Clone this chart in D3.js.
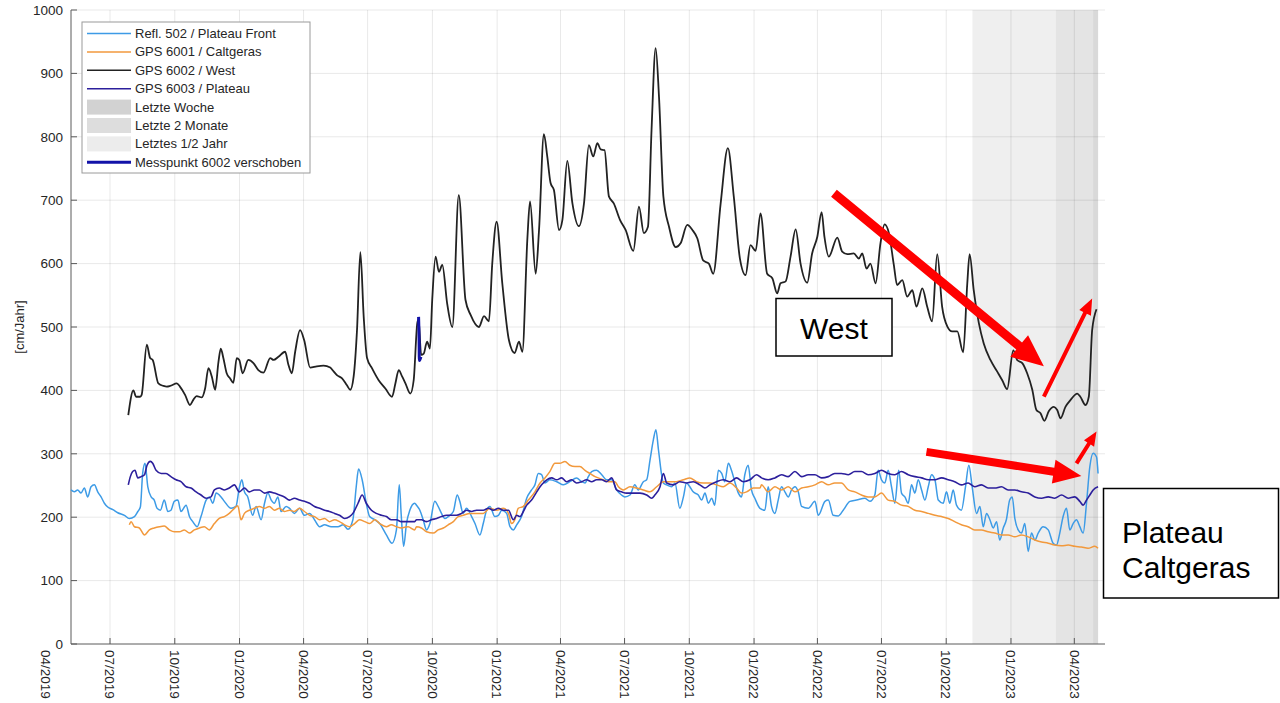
<!DOCTYPE html>
<html>
<head>
<meta charset="utf-8">
<script src="https://cdn.jsdelivr.net/npm/d3@7"></script>
<style>
  body { margin: 0; background: #fff; }
  svg { display: block; font-family: "Liberation Sans", Arial, sans-serif; }
</style>
</head>
<body>
<div id="chart"></div>
<script>
// Data: [decimal year, cm/Jahr]
const westData = [
  [2019.567,361],[2019.587,400],[2019.597,390],[2019.613,390],[2019.619,393],[2019.639,472],[2019.652,451],[2019.662,448],
  [2019.684,411],[2019.704,407],[2019.717,406],[2019.730,407],[2019.756,411],[2019.768,406],[2019.788,393],[2019.807,377],
  [2019.820,385],[2019.833,391],[2019.853,389],[2019.866,403],[2019.879,435],[2019.892,422],[2019.905,401],[2019.918,445],
  [2019.927,466],[2019.937,451],[2019.950,427],[2019.963,419],[2019.976,412],[2019.989,451],[2019.999,448],[2020.012,427],
  [2020.034,448],[2020.054,443],[2020.073,432],[2020.093,428],[2020.119,451],[2020.132,448],[2020.151,453],[2020.177,461],
  [2020.190,440],[2020.203,427],[2020.216,461],[2020.235,495],[2020.251,479],[2020.274,436],[2020.300,438],[2020.326,439],
  [2020.352,436],[2020.365,430],[2020.378,424],[2020.398,419],[2020.417,408],[2020.430,401],[2020.443,422],[2020.456,495],
  [2020.469,618],[2020.482,516],[2020.495,451],[2020.514,435],[2020.540,416],[2020.566,403],[2020.592,390],[2020.605,411],
  [2020.618,432],[2020.631,422],[2020.644,411],[2020.663,395],[2020.676,416],[2020.690,506],[2020.695,512],
  [2020.705,456],[2020.715,458],[2020.728,477],[2020.739,466],[2020.748,543],[2020.761,611],[2020.774,587],[2020.787,598],
  [2020.806,537],[2020.826,500],[2020.851,708],[2020.877,543],[2020.897,519],[2020.929,500],[2020.949,517],[2020.968,509],
  [2020.981,600],[2020.998,666],[2021.020,569],[2021.046,479],[2021.068,459],[2021.085,477],[2021.098,461],[2021.118,642],
  [2021.128,698],[2021.150,584],[2021.163,653],[2021.182,804],[2021.195,769],[2021.208,727],[2021.221,716],[2021.241,653],
  [2021.254,669],[2021.273,762],[2021.293,695],[2021.318,659],[2021.338,695],[2021.357,787],[2021.374,769],[2021.390,790],
  [2021.403,780],[2021.418,779],[2021.435,706],[2021.454,695],[2021.478,669],[2021.500,653],[2021.530,620],[2021.552,690],
  [2021.571,648],[2021.587,658],[2021.601,811],[2021.617,940],[2021.630,863],[2021.647,706],[2021.669,658],[2021.695,626],
  [2021.714,632],[2021.740,661],[2021.760,653],[2021.779,640],[2021.802,605],[2021.824,600],[2021.841,584],[2021.870,695],
  [2021.898,782],[2021.921,706],[2021.945,608],[2021.967,582],[2021.986,629],[2022.006,620],[2022.025,679],[2022.051,584],
  [2022.071,577],[2022.090,553],[2022.103,569],[2022.123,572],[2022.142,611],[2022.162,654],[2022.181,600],[2022.207,570],
  [2022.226,616],[2022.246,642],[2022.263,681],[2022.274,642],[2022.291,611],[2022.324,641],[2022.343,619],[2022.363,615],
  [2022.388,616],[2022.408,608],[2022.421,616],[2022.438,592],[2022.453,600],[2022.473,569],[2022.492,632],[2022.508,662],
  [2022.525,648],[2022.544,598],[2022.557,566],[2022.577,574],[2022.596,548],[2022.616,558],[2022.632,532],[2022.655,561],
  [2022.674,532],[2022.693,509],[2022.713,615],[2022.732,532],[2022.752,501],[2022.771,493],[2022.791,493],[2022.814,460],
  [2022.830,569],[2022.839,615],[2022.855,558],[2022.875,506],[2022.894,474],[2022.920,448],[2022.946,430],[2022.966,416],
  [2022.985,402],[2023.009,463],[2023.024,448],[2023.044,443],[2023.063,427],[2023.083,401],[2023.099,369],[2023.115,364],
  [2023.130,352],[2023.147,367],[2023.167,374],[2023.180,369],[2023.193,356],[2023.212,374],[2023.232,385],[2023.258,395],
  [2023.270,390],[2023.290,377],[2023.303,390],[2023.316,495],[2023.333,528]
];

const messpunktData = [[2020.695,516],[2020.697,480],[2020.698,447],[2020.704,453]];

const reflData = [
  [2019.344,243],[2019.357,240],[2019.370,243],[2019.383,238],[2019.396,246],[2019.409,232],[2019.422,248],[2019.435,251],
  [2019.448,240],[2019.461,232],[2019.474,222],[2019.487,216],[2019.507,212],[2019.526,207],[2019.552,203],[2019.571,198],
  [2019.591,201],[2019.604,209],[2019.614,216],[2019.623,269],[2019.632,285],[2019.643,248],[2019.656,232],[2019.668,227],
  [2019.679,214],[2019.692,211],[2019.707,227],[2019.721,209],[2019.733,211],[2019.746,225],[2019.760,227],[2019.772,209],
  [2019.792,219],[2019.805,201],[2019.818,193],[2019.835,185],[2019.850,201],[2019.870,227],[2019.882,232],[2019.896,222],
  [2019.909,238],[2019.928,232],[2019.941,225],[2019.967,214],[2019.986,217],[2019.999,246],[2020.009,259],[2020.019,240],
  [2020.032,232],[2020.051,203],[2020.064,217],[2020.084,196],[2020.097,222],[2020.110,238],[2020.123,227],[2020.135,222],
  [2020.149,232],[2020.161,209],[2020.181,217],[2020.194,214],[2020.213,206],[2020.233,214],[2020.252,203],[2020.272,206],
  [2020.291,196],[2020.311,185],[2020.330,188],[2020.356,185],[2020.382,185],[2020.402,188],[2020.421,181],[2020.440,196],
  [2020.453,248],[2020.462,276],[2020.476,259],[2020.492,222],[2020.505,201],[2020.525,196],[2020.544,190],[2020.570,172],
  [2020.592,159],[2020.609,180],[2020.620,251],[2020.628,201],[2020.637,154],[2020.648,190],[2020.661,211],[2020.680,222],
  [2020.687,219],[2020.700,211],[2020.713,196],[2020.726,180],[2020.739,190],[2020.758,225],[2020.771,217],[2020.784,206],
  [2020.797,198],[2020.810,201],[2020.830,209],[2020.845,235],[2020.855,225],[2020.868,206],[2020.881,214],[2020.901,201],
  [2020.914,190],[2020.933,172],[2020.946,190],[2020.959,211],[2020.972,217],[2020.991,201],[2021.005,203],[2021.018,211],
  [2021.037,206],[2021.050,185],[2021.063,180],[2021.076,188],[2021.095,201],[2021.115,230],[2021.134,243],[2021.147,251],
  [2021.160,269],[2021.173,267],[2021.186,254],[2021.205,259],[2021.232,256],[2021.258,251],[2021.283,256],[2021.309,262],
  [2021.329,256],[2021.342,254],[2021.355,264],[2021.368,272],[2021.387,274],[2021.407,267],[2021.426,259],[2021.446,259],
  [2021.465,243],[2021.484,235],[2021.497,232],[2021.517,235],[2021.536,251],[2021.549,243],[2021.569,256],[2021.582,259],
  [2021.595,290],[2021.608,322],[2021.618,338],[2021.628,306],[2021.647,254],[2021.660,251],[2021.679,248],[2021.692,254],
  [2021.711,214],[2021.725,232],[2021.737,254],[2021.750,248],[2021.763,240],[2021.783,235],[2021.796,227],[2021.809,238],
  [2021.822,222],[2021.835,230],[2021.847,219],[2021.861,274],[2021.874,269],[2021.886,256],[2021.900,285],[2021.912,274],
  [2021.925,256],[2021.939,238],[2021.951,232],[2021.964,267],[2021.977,282],[2021.990,243],[2022.003,230],[2022.023,214],
  [2022.042,211],[2022.055,248],[2022.068,217],[2022.081,206],[2022.094,227],[2022.107,248],[2022.120,240],[2022.133,232],
  [2022.146,243],[2022.159,248],[2022.172,240],[2022.185,217],[2022.211,214],[2022.237,225],[2022.250,203],[2022.276,225],
  [2022.289,227],[2022.308,203],[2022.328,202],[2022.347,211],[2022.373,225],[2022.399,227],[2022.431,230],[2022.451,225],
  [2022.470,235],[2022.483,274],[2022.496,259],[2022.509,254],[2022.522,274],[2022.535,248],[2022.548,222],[2022.563,274],
  [2022.574,238],[2022.587,232],[2022.600,222],[2022.613,251],[2022.626,238],[2022.639,259],[2022.652,243],[2022.665,227],
  [2022.678,248],[2022.691,267],[2022.704,259],[2022.717,227],[2022.736,222],[2022.749,240],[2022.762,222],[2022.775,243],
  [2022.788,219],[2022.807,211],[2022.823,248],[2022.836,282],[2022.849,248],[2022.866,206],[2022.879,217],[2022.892,185],
  [2022.905,206],[2022.918,196],[2022.931,183],[2022.944,193],[2022.956,164],[2022.970,183],[2022.982,196],[2022.995,227],
  [2023.005,232],[2023.015,198],[2023.028,180],[2023.041,175],[2023.054,190],[2023.067,146],[2023.080,175],[2023.093,164],
  [2023.106,175],[2023.125,185],[2023.145,180],[2023.164,159],[2023.177,156],[2023.190,175],[2023.203,201],[2023.216,214],
  [2023.229,180],[2023.242,190],[2023.255,196],[2023.268,185],[2023.281,175],[2023.294,222],[2023.307,280],[2023.320,301],
  [2023.333,295],[2023.339,269]
];

const caltgerasData = [
  [2019.571,188],[2019.578,193],[2019.591,185],[2019.610,183],[2019.630,172],[2019.649,180],[2019.668,183],[2019.688,185],
  [2019.707,186],[2019.727,180],[2019.746,177],[2019.766,177],[2019.785,180],[2019.805,175],[2019.824,180],[2019.844,183],
  [2019.863,185],[2019.882,180],[2019.902,190],[2019.921,198],[2019.941,201],[2019.960,206],[2019.980,214],[2019.993,218],
  [2020.006,196],[2020.019,206],[2020.038,211],[2020.058,214],[2020.077,217],[2020.097,214],[2020.116,217],[2020.135,211],
  [2020.155,214],[2020.174,209],[2020.194,211],[2020.213,209],[2020.233,214],[2020.252,209],[2020.272,203],[2020.291,201],
  [2020.311,196],[2020.330,198],[2020.349,193],[2020.369,196],[2020.388,193],[2020.408,188],[2020.427,185],[2020.447,190],
  [2020.466,196],[2020.486,193],[2020.505,190],[2020.525,196],[2020.544,190],[2020.570,185],[2020.589,188],[2020.609,185],
  [2020.628,183],[2020.654,185],[2020.680,180],[2020.687,185],[2020.706,183],[2020.726,177],[2020.752,175],[2020.771,180],
  [2020.791,183],[2020.810,188],[2020.830,193],[2020.849,201],[2020.868,203],[2020.894,206],[2020.920,206],[2020.946,206],
  [2020.972,214],[2020.998,211],[2021.024,214],[2021.044,206],[2021.056,190],[2021.069,196],[2021.082,214],[2021.102,217],
  [2021.121,227],[2021.147,240],[2021.167,254],[2021.186,262],[2021.205,272],[2021.225,285],[2021.244,285],[2021.264,288],
  [2021.283,282],[2021.303,280],[2021.322,280],[2021.342,274],[2021.361,269],[2021.381,264],[2021.407,260],[2021.433,256],
  [2021.458,256],[2021.472,248],[2021.491,243],[2021.517,248],[2021.543,246],[2021.569,243],[2021.595,240],[2021.621,248],
  [2021.647,256],[2021.672,256],[2021.698,256],[2021.725,259],[2021.750,262],[2021.776,256],[2021.802,254],[2021.828,254],
  [2021.854,251],[2021.880,248],[2021.906,254],[2021.932,246],[2021.951,238],[2021.971,240],[2021.997,246],[2022.023,246],
  [2022.029,251],[2022.055,240],[2022.081,248],[2022.107,243],[2022.133,248],[2022.159,240],[2022.185,246],[2022.211,248],
  [2022.237,251],[2022.263,256],[2022.289,251],[2022.314,254],[2022.340,254],[2022.367,243],[2022.392,240],[2022.418,235],
  [2022.444,232],[2022.470,232],[2022.496,238],[2022.522,227],[2022.548,225],[2022.574,219],[2022.600,217],[2022.626,211],
  [2022.652,209],[2022.678,206],[2022.704,203],[2022.730,201],[2022.756,198],[2022.781,193],[2022.807,188],[2022.833,185],
  [2022.859,180],[2022.885,180],[2022.911,177],[2022.937,175],[2022.963,172],[2022.989,172],[2023.015,169],[2023.041,172],
  [2023.067,169],[2023.093,164],[2023.119,161],[2023.145,159],[2023.170,156],[2023.197,155],[2023.223,156],[2023.248,154],
  [2023.274,153],[2023.300,151],[2023.326,154],[2023.339,151]
];

const plateauData = [
  [2019.567,251],[2019.575,264],[2019.584,272],[2019.593,274],[2019.604,262],[2019.617,264],[2019.630,267],[2019.640,282],
  [2019.653,288],[2019.662,285],[2019.675,274],[2019.695,269],[2019.714,269],[2019.733,264],[2019.753,259],[2019.772,256],
  [2019.792,248],[2019.811,246],[2019.831,240],[2019.850,235],[2019.870,230],[2019.889,232],[2019.902,243],[2019.921,246],
  [2019.941,243],[2019.960,246],[2019.980,251],[2019.999,240],[2020.019,246],[2020.038,240],[2020.058,243],[2020.077,243],
  [2020.097,238],[2020.116,240],[2020.135,238],[2020.155,235],[2020.174,232],[2020.194,227],[2020.213,230],[2020.233,227],
  [2020.252,225],[2020.272,222],[2020.291,217],[2020.311,214],[2020.330,211],[2020.349,209],[2020.369,206],[2020.388,203],
  [2020.408,198],[2020.427,201],[2020.440,206],[2020.460,222],[2020.476,235],[2020.492,222],[2020.512,211],[2020.531,206],
  [2020.551,203],[2020.570,201],[2020.589,196],[2020.609,196],[2020.628,193],[2020.654,193],[2020.680,193],[2020.687,196],
  [2020.706,196],[2020.726,193],[2020.745,196],[2020.765,198],[2020.784,201],[2020.804,203],[2020.823,203],[2020.842,203],
  [2020.862,206],[2020.881,211],[2020.901,209],[2020.920,211],[2020.946,211],[2020.966,214],[2020.985,211],[2021.005,214],
  [2021.024,211],[2021.044,211],[2021.063,196],[2021.076,203],[2021.089,201],[2021.102,209],[2021.115,219],[2021.134,227],
  [2021.154,240],[2021.173,251],[2021.193,259],[2021.212,262],[2021.232,259],[2021.251,262],[2021.270,256],[2021.290,259],
  [2021.309,254],[2021.329,256],[2021.348,259],[2021.368,256],[2021.387,259],[2021.407,259],[2021.426,256],[2021.446,262],
  [2021.465,243],[2021.484,240],[2021.504,238],[2021.530,238],[2021.556,238],[2021.582,235],[2021.601,230],[2021.614,235],
  [2021.634,248],[2021.647,269],[2021.660,254],[2021.686,251],[2021.711,256],[2021.737,254],[2021.763,256],[2021.789,251],
  [2021.809,246],[2021.828,251],[2021.854,256],[2021.880,259],[2021.906,256],[2021.932,262],[2021.958,256],[2021.984,259],
  [2022.010,267],[2022.029,262],[2022.055,259],[2022.081,262],[2022.107,267],[2022.133,264],[2022.159,272],[2022.185,264],
  [2022.211,267],[2022.237,267],[2022.263,262],[2022.289,264],[2022.314,269],[2022.340,269],[2022.367,267],[2022.392,272],
  [2022.418,272],[2022.444,267],[2022.470,269],[2022.496,274],[2022.522,269],[2022.548,267],[2022.574,272],[2022.600,267],
  [2022.626,264],[2022.652,262],[2022.678,259],[2022.704,259],[2022.730,262],[2022.756,259],[2022.781,256],[2022.807,251],
  [2022.833,254],[2022.859,248],[2022.885,251],[2022.911,246],[2022.937,246],[2022.963,248],[2022.989,243],[2023.015,243],
  [2023.041,240],[2023.067,238],[2023.093,232],[2023.119,230],[2023.145,232],[2023.170,230],[2023.197,235],[2023.223,230],
  [2023.248,232],[2023.268,225],[2023.281,219],[2023.294,227],[2023.307,235],[2023.320,243],[2023.339,248]
];

// shaded periods [start, end] in decimal years
const halfYear = [2022.850, 2023.339];
const twoMonths = [2023.175, 2023.339];
const lastWeek = [2023.320, 2023.339];

const yTicks = [0, 100, 200, 300, 400, 500, 600, 700, 800, 900, 1000];
const xTickLabels = ["04/2019","07/2019","10/2019","01/2020","04/2020","07/2020","10/2020","01/2021","04/2021",
  "07/2021","10/2021","01/2022","04/2022","07/2022","10/2022","01/2023","04/2023"];

const legendItems = [
  { label: "Refl. 502 / Plateau Front", type: "line", color: "#3d9be6", width: 1.5 },
  { label: "GPS 6001 / Caltgeras", type: "line", color: "#f2993c", width: 1.5 },
  { label: "GPS 6002 / West", type: "line", color: "#222222", width: 1.5 },
  { label: "GPS 6003 / Plateau", type: "line", color: "#2c1f9c", width: 1.5 },
  { label: "Letzte Woche", type: "patch", color: "#d2d2d2" },
  { label: "Letzte 2 Monate", type: "patch", color: "#dddddd" },
  { label: "Letztes 1/2 Jahr", type: "patch", color: "#ececec" },
  { label: "Messpunkt 6002 verschoben", type: "line", color: "#1212a8", width: 3 }
];

// red annotation arrows: [tail, tip] in [decimal year, value]
const arrows = [
  { from: [2022.311, 711], to: [2023.128, 438], shaft: 9, headLen: 32, headW: 28 },
  { from: [2023.128, 390], to: [2023.316, 545], shaft: 4, headLen: 16, headW: 13 },
  { from: [2022.671, 303], to: [2023.274, 265], shaft: 8, headLen: 28, headW: 24 },
  { from: [2023.255, 285], to: [2023.333, 335], shaft: 4, headLen: 14, headW: 12 }
];

function decToDate(d) {
  const y = Math.floor(d);
  const a = Date.UTC(y, 0, 1), b = Date.UTC(y + 1, 0, 1);
  return new Date(a + (d - y) * (b - a));
}

function drawChart() {
  const W = 1280, H = 703;
  const margin = { top: 10, left: 71, bottom: 59 };
  const plotRight = 1105;

  const svg = d3.select("#chart").append("svg")
    .attr("width", W)
    .attr("height", H);

  const x = d3.scaleUtc()
    .domain([decToDate(2019.344), decToDate(2023.366)])
    .range([margin.left, plotRight]);

  const y = d3.scaleLinear()
    .domain([0, 1000])
    .range([H - margin.bottom, margin.top]);

  const yBottom = y(0), yTop = y(1000);

  // shaded periods
  [[halfYear, "#efefef"], [twoMonths, "#e4e4e4"], [lastWeek, "#d9d9d9"]].forEach(([p, c]) => {
    svg.append("rect")
      .attr("x", x(decToDate(p[0])))
      .attr("y", yTop)
      .attr("width", x(decToDate(p[1])) - x(decToDate(p[0])))
      .attr("height", yBottom - yTop)
      .attr("fill", c);
  });

  const tickDates = xTickLabels.map(s => {
    const [m, yr] = s.split("/");
    return new Date(Date.UTC(+yr, +m - 1, 1));
  });
  const inside = tickDates.filter(d => d >= x.domain()[0] && d <= x.domain()[1]);

  // grid
  svg.append("g").selectAll("line")
    .data(inside)
    .enter().append("line")
    .attr("x1", d => x(d)).attr("x2", d => x(d))
    .attr("y1", yTop).attr("y2", yBottom)
    .attr("stroke", "rgba(0,0,0,0.09)")
    .attr("stroke-width", 1);

  svg.append("g").selectAll("line")
    .data(yTicks.slice(1))
    .enter().append("line")
    .attr("x1", margin.left).attr("x2", plotRight)
    .attr("y1", d => y(d)).attr("y2", d => y(d))
    .attr("stroke", "rgba(0,0,0,0.09)")
    .attr("stroke-width", 1);

  // axes
  const axisColor = "#5a5a5a";
  svg.append("line")
    .attr("x1", margin.left).attr("x2", margin.left)
    .attr("y1", yTop).attr("y2", yBottom)
    .attr("stroke", axisColor);
  svg.append("line")
    .attr("x1", margin.left).attr("x2", plotRight)
    .attr("y1", yBottom).attr("y2", yBottom)
    .attr("stroke", axisColor);

  svg.append("g").selectAll("line")
    .data(yTicks)
    .enter().append("line")
    .attr("x1", margin.left).attr("x2", margin.left + 6)
    .attr("y1", d => y(d)).attr("y2", d => y(d))
    .attr("stroke", axisColor);

  svg.append("g").selectAll("text")
    .data(yTicks)
    .enter().append("text")
    .attr("x", margin.left - 8)
    .attr("y", d => y(d))
    .attr("dy", "0.35em")
    .attr("text-anchor", "end")
    .style("font-size", "13.5px")
    .style("fill", "#262626")
    .text(d => d);

  svg.append("g").selectAll("line")
    .data(inside)
    .enter().append("line")
    .attr("x1", d => x(d)).attr("x2", d => x(d))
    .attr("y1", yBottom).attr("y2", yBottom - 6)
    .attr("stroke", axisColor);

  svg.append("g").selectAll("text")
    .data(tickDates)
    .enter().append("text")
    .attr("transform", d => `translate(${x(d)},${yBottom + 6}) rotate(90)`)
    .attr("dy", "0.35em")
    .attr("text-anchor", "start")
    .style("font-size", "13.5px")
    .style("fill", "#262626")
    .text((d, i) => xTickLabels[i]);

  svg.append("text")
    .attr("transform", `translate(24,${(yBottom + yTop) / 2}) rotate(-90)`)
    .attr("text-anchor", "middle")
    .style("font-size", "13px")
    .style("fill", "#262626")
    .text("[cm/Jahr]");

  // lines
  const line = d3.line()
    .x(d => x(decToDate(d[0])))
    .y(d => y(d[1]))
    .curve(d3.curveMonotoneX);

  const series = [
    [reflData, legendItems[0], 1.5],
    [caltgerasData, legendItems[1], 1.5],
    [westData, legendItems[2], 1.8],
    [plateauData, legendItems[3], 1.6],
    [messpunktData, legendItems[7], 3]
  ];
  series.forEach(([data, item, w]) => {
    svg.append("path")
      .datum(data)
      .attr("d", line)
      .attr("fill", "none")
      .attr("stroke", item.color)
      .attr("stroke-width", w)
      .attr("stroke-linejoin", "round");
  });

  // legend
  const legend = svg.append("g").attr("transform", "translate(82,22)");
  legend.append("rect")
    .attr("width", 228).attr("height", 151)
    .attr("fill", "#fff")
    .attr("stroke", "#9a9a9a");

  const rows = legend.selectAll("g.row")
    .data(legendItems)
    .enter().append("g")
    .attr("transform", (d, i) => `translate(0,${11.5 + i * 18.4})`);

  rows.filter(d => d.type === "line").append("line")
    .attr("x1", 5).attr("x2", 49)
    .attr("stroke", d => d.color)
    .attr("stroke-width", d => d.width);

  rows.filter(d => d.type === "patch").append("rect")
    .attr("x", 5).attr("y", -7.5)
    .attr("width", 44).attr("height", 15)
    .attr("fill", d => d.color);

  rows.append("text")
    .attr("x", 53)
    .attr("dy", "0.35em")
    .style("font-size", "13px")
    .style("fill", "#262626")
    .text(d => d.label);

  // red arrows
  arrows.forEach(a => {
    const ax = x(decToDate(a.from[0])), ay = y(a.from[1]);
    const bx2 = x(decToDate(a.to[0])), by2 = y(a.to[1]);
    const len = Math.hypot(bx2 - ax, by2 - ay);
    const ux = (bx2 - ax) / len, uy = (by2 - ay) / len;
    const nx = -uy, ny = ux;
    const bx = bx2 - ux * a.headLen, by = by2 - uy * a.headLen;
    const s = a.shaft / 2, h = a.headW / 2;
    const pts = [
      [ax + nx * s, ay + ny * s], [bx + nx * s, by + ny * s], [bx + nx * h, by + ny * h],
      [bx2, by2],
      [bx - nx * h, by - ny * h], [bx - nx * s, by - ny * s], [ax - nx * s, ay - ny * s]
    ];
    svg.append("polygon")
      .attr("points", pts.map(p => p.join(",")).join(" "))
      .attr("fill", "#ff0000");
  });

  // text boxes
  svg.append("rect")
    .attr("x", 776).attr("y", 298.5).attr("width", 116).attr("height", 57.5)
    .attr("fill", "#fff").attr("stroke", "#000").attr("stroke-width", 1.5);
  svg.append("text")
    .attr("x", 834).attr("y", 339)
    .attr("text-anchor", "middle")
    .style("font-size", "30px")
    .style("fill", "#000")
    .text("West");

  svg.append("rect")
    .attr("x", 1103.5).attr("y", 488.5).attr("width", 175).attr("height", 109.5)
    .attr("fill", "#fff").attr("stroke", "#000").attr("stroke-width", 1.5);
  const pc = svg.append("text")
    .attr("x", 1122).attr("y", 543)
    .style("font-size", "30px")
    .style("fill", "#000");
  pc.append("tspan").attr("x", 1122).text("Plateau");
  pc.append("tspan").attr("x", 1122).attr("dy", 35).text("Caltgeras");
}

drawChart();
</script>
</body>
</html>
